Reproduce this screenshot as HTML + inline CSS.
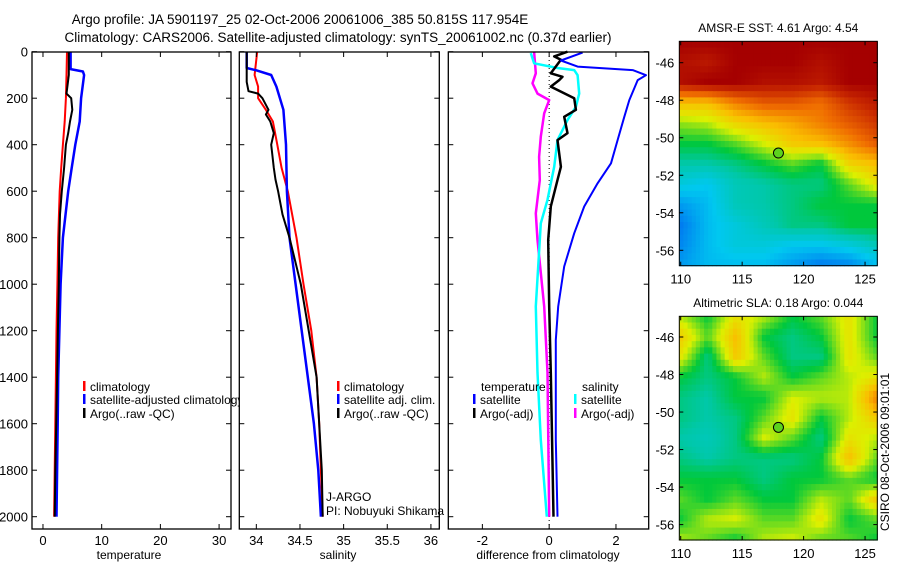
<!DOCTYPE html>
<html><head><meta charset="utf-8">
<style>
body{margin:0;background:#fff;}
svg{display:block;font-family:"Liberation Sans",sans-serif;}
</style></head>
<body>
<svg id="chart" width="900" height="580" viewBox="0 0 900 580" xmlns="http://www.w3.org/2000/svg"></svg>
<script>
// ---------- data ----------
const depthTicks=[0,200,400,600,800,1000,1200,1400,1600,1800,2000];
const tempTicks=[0,10,20,30];
const salTicks=[34,34.5,35,35.5,36];
const salTickLabels=["34","34.5","35","35.5","36"];
const diffTicks=[-2,0,2];

const tClimD=[0,100,200,300,400,500,600,800,1000,1200,1400,1600,1800,2000];
const tClimV=[4.1,4.0,3.9,3.7,3.4,3.1,2.85,2.6,2.45,2.3,2.2,2.1,2.0,1.9];
const tSatD=[0,75,85,100,200,300,400,500,600,800,1000,1200,1400,1600,1800,2000];
const tSatV=[4.7,4.7,6.8,7.0,6.5,6.25,5.5,4.9,4.3,3.4,3.0,2.8,2.6,2.5,2.4,2.3];
const tArgoD=[0,100,180,200,250,300,350,400,500,600,700,800,1000,1200,1400,1600,1800,2000];
const tArgoV=[4.4,4.4,4.0,4.8,5.0,4.6,4.3,3.9,3.6,3.2,2.9,2.8,2.7,2.55,2.4,2.25,2.1,2.0];

const sClimD=[0,100,150,200,250,300,400,500,600,800,1000,1200,1400,1600,1800,2000];
const sClimV=[34.01,33.98,34.02,34.02,34.11,34.19,34.24,34.29,34.36,34.46,34.54,34.63,34.69,34.72,34.74,34.76];
const sSatD=[0,70,80,100,150,200,250,400,600,800,1000,1200,1400,1600,1800,2000];
const sSatV=[33.89,33.89,34.0,34.17,34.23,34.27,34.31,34.34,34.35,34.38,34.45,34.52,34.59,34.66,34.71,34.74];
const sArgoD=[0,130,170,180,200,250,270,300,350,400,500,550,600,700,800,1000,1200,1400,1600,1800,2000];
const sArgoV=[33.89,33.89,33.91,34.02,34.07,34.14,34.11,34.16,34.2,34.17,34.2,34.22,34.25,34.3,34.38,34.51,34.6,34.69,34.72,34.75,34.76];

const dTSatD=[4,38,64,79,101,122,208,280,380,480,566,666,781,924,1096,1240,1670,2000];
const dTSatV=[1.0,0.35,0.85,2.5,2.9,2.65,2.4,2.25,2.05,1.85,1.45,1.05,0.75,0.45,0.27,0.2,0.2,0.25];
const dTArgoD=[0,20,35,93,108,122,150,200,250,280,350,380,495,552,666,810,1100,1380,2000];
const dTArgoV=[0.55,0.15,0.35,0.05,0.4,0.3,0.05,0.75,0.8,0.45,0.55,0.25,0.35,0.25,0.05,-0.03,0.0,0.05,0.13];
const dSSatD=[6,50,70,79,101,180,237,294,380,495,637,738,1096,1380,1670,2000];
const dSSatV=[-0.55,-0.45,0.25,0.75,0.85,0.9,0.8,0.55,0.25,0.15,-0.05,-0.25,-0.4,-0.35,-0.25,-0.07];
const dSArgoD=[0,93,136,180,208,265,365,452,552,695,810,1096,1380,2000];
const dSArgoV=[-0.45,-0.4,-0.5,-0.35,0,-0.15,-0.25,-0.3,-0.28,-0.4,-0.35,-0.15,-0.05,0];

const mapLonTicks=[110,115,120,125];
const mapLatTicks=[-46,-48,-50,-52,-54,-56];
const sstGrid=[
[1,1,1,1,1,1,1,1],
[.97,.95,1,1,1,.97,1,1],
[.97,1,1,.97,.97,.95,1,1],
[.72,.72,.8,.85,.85,.82,.9,.95],
[.58,.6,.68,.72,.75,.8,.85,.9],
[.5,.5,.55,.62,.7,.72,.78,.85],
[.42,.42,.45,.5,.55,.5,.68,.72],
[.35,.32,.4,.42,.45,.45,.55,.65],
[.25,.3,.4,.42,.45,.5,.5,.5],
[.2,.3,.35,.4,.45,.45,.5,.5],
[.22,.3,.35,.35,.32,.32,.35,.4],
[.25,.3,.3,.3,.25,.2,.22,.3]];
const slaGrid=[
[.6,.5,.65,.6,.5,.55,.65,.5],
[.7,.55,.72,.5,.45,.5,.65,.5],
[.65,.45,.7,.55,.45,.45,.65,.55],
[.5,.45,.5,.6,.5,.55,.6,.65],
[.45,.42,.5,.5,.62,.6,.6,.8],
[.45,.42,.45,.55,.65,.5,.6,.7],
[.42,.4,.45,.62,.55,.45,.65,.6],
[.45,.42,.45,.45,.45,.5,.72,.55],
[.5,.5,.5,.45,.5,.5,.55,.5],
[.55,.5,.55,.5,.5,.6,.55,.7],
[.5,.6,.62,.55,.55,.65,.5,.55],
[.6,.55,.5,.6,.62,.55,.55,.5]];
const argoLon=117.954, argoLat=-50.815;

// ---------- helpers ----------
const svg=document.getElementById('chart');
const NS="http://www.w3.org/2000/svg";
function el(tag,attrs,parent){const e=document.createElementNS(NS,tag);for(const k in attrs)e.setAttribute(k,attrs[k]);(parent||svg).appendChild(e);return e;}
function txt(x,y,s,size,anchor,parent){const t=el('text',{x:x,y:y,'font-size':size,'text-anchor':anchor||'start',fill:'#000'},parent);t.textContent=s;return t;}
const yD=d=>51.7+d*0.2325;
const PT=52, PB=529;

function panel(name,x0,x1,vmin,vmax){
  const g=el('g',{});
  
  
  el('rect',{x:x0,y:PT,width:x1-x0,height:PB-PT,fill:'#fff'},g);
  return {g,x0,x1,sx:v=>x0+(v-vmin)/(vmax-vmin)*(x1-x0)};
}
function frame(p,xt,xl,showY){
  el('rect',{x:p.x0,y:PT,width:p.x1-p.x0,height:PB-PT,fill:'none',stroke:'#000','stroke-width':1.3},p.g);
  depthTicks.forEach(d=>{const y=yD(d);
    el('line',{x1:p.x0,x2:p.x0+5,y1:y,y2:y,stroke:'#000'},p.g);
    el('line',{x1:p.x1,x2:p.x1-5,y1:y,y2:y,stroke:'#000'},p.g);
    if(showY){const t=txt(p.x0-4,y+5,String(d),13,'end',p.g);}
  });
  xt.forEach((v,i)=>{const x=p.sx(v);
    el('line',{x1:x,x2:x,y1:PB,y2:PB-5,stroke:'#000'},p.g);
    el('line',{x1:x,x2:x,y1:PT,y2:PT+5,stroke:'#000'},p.g);
    const t=txt(x,545,xl[i],13,'middle',p.g);
    
    
  });
}
function line(p,D,V,color,w,name){
  const pts=D.map((d,i)=>p.sx(V[i]).toFixed(1)+','+yD(d).toFixed(1)).join(' ');
  const l=el('polyline',{points:pts,fill:'none',stroke:color,'stroke-width':w,'stroke-linejoin':'round'},p.g);
  
  
}
function legend(g,x,y,color,label,name){
  el('rect',{x:x,y:y-10,width:2.5,height:10,fill:color},g);
  const t=txt(x+7,y,label,12,'start',g);
  
  
}

// ---------- titles ----------
let t=txt(300,24,'Argo profile: JA 5901197_25 02-Oct-2006 20061006_385 50.815S 117.954E',13.5,'middle');


t=txt(338,42,'Climatology: CARS2006. Satellite-adjusted climatology: synTS_20061002.nc (0.37d earlier)',13.5,'middle');



// ---------- temperature panel ----------
const p1=panel('temperature-panel',32,231,-1.87,32.03);
line(p1,tClimD,tClimV,'#f00',2,'temperature-climatology-line');
line(p1,tSatD,tSatV,'#00f',2.5,'temperature-satellite-line');
line(p1,tArgoD,tArgoV,'#000',2,'temperature-argo-line');
frame(p1,tempTicks,tempTicks.map(String),true);
legend(p1.g,83,391,'#f00','climatology','legend-climatology');
legend(p1.g,83,404,'#00f','satellite-adjusted climatology','legend-satellite-adjusted');
legend(p1.g,83,418,'#000','Argo(..raw -QC)','legend-argo');
t=txt(129,559,'temperature',12,'middle',p1.g);



// ---------- salinity panel ----------
const p2=panel('salinity-panel',239.3,439.3,33.805,36.096);
line(p2,sClimD,sClimV,'#f00',2,'salinity-climatology-line');
line(p2,sSatD,sSatV,'#00f',2.5,'salinity-satellite-line');
line(p2,sArgoD,sArgoV,'#000',2,'salinity-argo-line');
frame(p2,salTicks,salTickLabels,false);
legend(p2.g,337,391,'#f00','climatology','legend-sal-climatology');
legend(p2.g,337,404,'#00f','satellite adj. clim.','legend-sal-satellite');
legend(p2.g,337,418,'#000','Argo(..raw -QC)','legend-sal-argo');
t=txt(326,501,'J-ARGO',12,'start',p2.g);


t=txt(326,515,'PI: Nobuyuki Shikama',12,'start',p2.g);


t=txt(338,559,'salinity',12,'middle',p2.g);



// ---------- difference panel ----------
const p3=panel('difference-panel',448.3,648.7,-3.02,2.98);
el('line',{x1:p3.sx(0),x2:p3.sx(0),y1:PT,y2:PB,stroke:'#000','stroke-dasharray':'1,3'},p3.g);
line(p3,dSArgoD,dSArgoV,'#f0f',2.5,'diff-salinity-argo-line');
line(p3,dSSatD,dSSatV,'#0ff',2.5,'diff-salinity-satellite-line');
line(p3,dTArgoD,dTArgoV,'#000',2.5,'diff-temperature-argo-line');
line(p3,dTSatD,dTSatV,'#00f',2,'diff-temperature-satellite-line');
frame(p3,diffTicks,diffTicks.map(String),false);
t=txt(481,391,'temperature',12,'start',p3.g);


legend(p3.g,473,404,'#00f','satellite','legend-diff-temp-satellite');
legend(p3.g,473,418,'#000','Argo(-adj)','legend-diff-temp-argo');
t=txt(582,391,'salinity',12,'start',p3.g);


legend(p3.g,574,404,'#0ff','satellite','legend-diff-sal-satellite');
legend(p3.g,574,418,'#f0f','Argo(-adj)','legend-diff-sal-argo');
t=txt(548,559,'difference from climatology',12,'middle',p3.g);



// ---------- maps ----------
const stops=[[0,[0,60,220]],[.2,[0,120,240]],[.32,[0,200,240]],[.42,[0,200,170]],[.5,[0,200,60]],[.62,[220,240,0]],[.72,[250,190,0]],[.82,[240,110,0]],[.92,[200,40,0]],[1,[165,0,0]]];
function cmap(v){v=Math.max(0,Math.min(1,v));for(let i=1;i<stops.length;i++){if(v<=stops[i][0]){const a=stops[i-1],b=stops[i],f=(v-a[0])/(b[0]-a[0]);return 'rgb('+a[1].map((c,k)=>Math.round(c+(b[1][k]-c)*f)).join(',')+')';}}return 'rgb(165,0,0)';}
function sample(G,r,c){const R=G.length-1,C=G[0].length-1;r=Math.max(0,Math.min(R,r));c=Math.max(0,Math.min(C,c));const r0=Math.floor(r),c0=Math.floor(c),r1=Math.min(R,r0+1),c1=Math.min(C,c0+1),fr=r-r0,fc=c-c0;
  return G[r0][c0]*(1-fr)*(1-fc)+G[r0][c1]*(1-fr)*fc+G[r1][c0]*fr*(1-fc)+G[r1][c1]*fr*fc;}
function map(name,grid,x0,x1,y0,y1,latRefY,title,titleY){
  const g=el('g',{});
  
  
  const sxL=lon=>680.7+(lon-110)*12.29;
  const syL=lat=>latRefY+(-46-lat)*18.76;
  const NX=48,NY=36,cw=(x1-x0)/NX,ch=(y1-y0)/NY;
  for(let j=0;j<NY;j++)for(let i=0;i<NX;i++){
    const v=sample(grid,(j+0.5)/NY*(grid.length-1),(i+0.5)/NX*(grid[0].length-1));
    const c=el('rect',{x:(x0+i*cw).toFixed(2),y:(y0+j*ch).toFixed(2),width:(cw+0.6).toFixed(2),height:(ch+0.6).toFixed(2),fill:cmap(v)},g);
    
    
  }
  el('rect',{x:x0,y:y0,width:x1-x0,height:y1-y0,fill:'none',stroke:'#000','stroke-width':1},g);
  mapLonTicks.forEach(lon=>{const x=sxL(lon);
    el('line',{x1:x,x2:x,y1:y1,y2:y1-4,stroke:'#000'},g);
    el('line',{x1:x,x2:x,y1:y0,y2:y0+4,stroke:'#000'},g);
    const tt=txt(x,y1+18,String(lon),13,'middle',g);
    
    
  });
  mapLatTicks.forEach(lat=>{const y=syL(lat);
    el('line',{x1:x0,x2:x0+4,y1:y,y2:y,stroke:'#000'},g);
    el('line',{x1:x1,x2:x1-4,y1:y,y2:y,stroke:'#000'},g);
    const tt=txt(x0-5,y+5,String(lat),13,'end',g);
    
    
  });
  const m=el('circle',{cx:sxL(argoLon),cy:syL(argoLat),r:5,fill:'#5cd21e',stroke:'#000','stroke-width':1},g);
  
  
  const tt=txt((x0+x1)/2,titleY,title,12,'middle',g);
  
  
}
map('sst-map',sstGrid,679.3,877.3,41.3,265.7,62.7,'AMSR-E SST: 4.61 Argo: 4.54',32);
map('sla-map',slaGrid,679.3,877.3,316.3,540,337,'Altimetric SLA: 0.18 Argo: 0.044',307);
t=txt(0,0,'CSIRO 08-Oct-2006 09:01:01',12,'middle');
t.setAttribute('transform','translate(889,452) rotate(-90)');


</script>
</body></html>
